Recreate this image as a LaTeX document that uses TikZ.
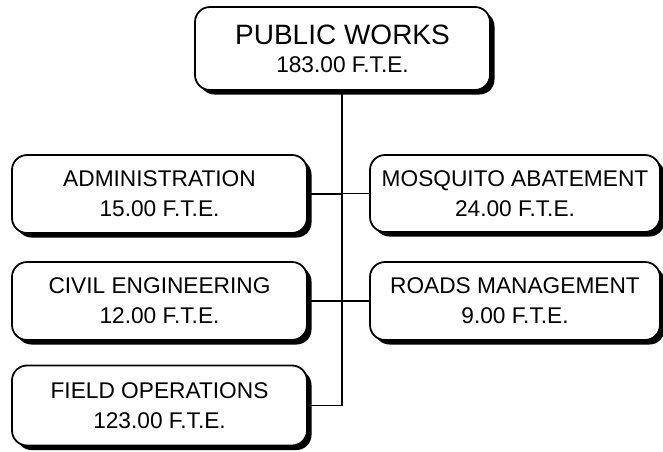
\documentclass[tikz,border=0pt]{standalone}
\usepackage{fontspec}
\setmainfont{Liberation Sans}
\usetikzlibrary{shadows}
\tikzset{
  orgbox/.style={draw=black, line width=1.8pt, fill=white, rounded corners=15pt,
    align=center, inner sep=0pt,
    drop shadow={shadow xshift=4.5pt, shadow yshift=-4.5pt, fill=black, opacity=1},
    font=\fontsize{22.7}{30}\selectfont},
  leftbox/.style={orgbox, minimum width=295pt, minimum height=78pt},
  rightbox/.style={orgbox, minimum width=290pt, minimum height=77pt},
  link/.style={draw=black, line width=1.8pt}
}
\begin{document}
\begin{tikzpicture}[x=1pt, y=-1pt]
\useasboundingbox (0,0) rectangle (663,451);
\node[orgbox, minimum width=295pt, minimum height=83pt, font=\fontsize{22.7}{28}\selectfont]
  (pw) at (342.5,48.5) {{\fontsize{28}{28}\selectfont PUBLIC WORKS}\\183.00 F.T.E.};
\node[leftbox] (adm) at (159.5,194) {ADMINISTRATION\\15.00 F.T.E.};
\node[leftbox] (civ) at (159.5,301) {CIVIL ENGINEERING\\12.00 F.T.E.};
\node[leftbox, minimum height=80pt] (fld) at (159.5,405.5) {FIELD OPERATIONS\\123.00 F.T.E.};
\node[rightbox] (mos) at (515,193.5) {MOSQUITO ABATEMENT\\24.00 F.T.E.};
\node[rightbox, minimum height=78pt] (rds) at (515,301) {ROADS MANAGEMENT\\9.00 F.T.E.};
\coordinate (spine) at (342,0);
\draw[link] (pw.south -| spine) -- (fld.east -| spine) -- (fld.east);
\draw[link] (adm.east) -- (adm.east -| spine);
\draw[link] (civ.east) -- (civ.east -| spine);
\draw[link] (mos.west) -- (mos.west -| spine);
\draw[link] (rds.west) -- (rds.west -| spine);
\end{tikzpicture}
\end{document}
